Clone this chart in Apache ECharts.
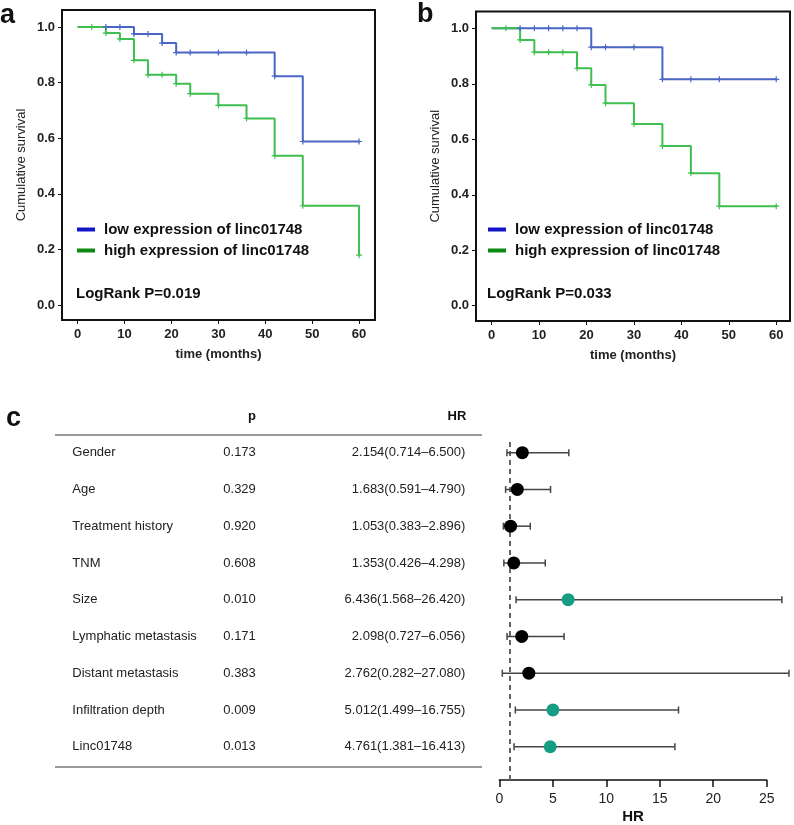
<!DOCTYPE html>
<html>
<head>
<meta charset="utf-8">
<script src="https://cdn.jsdelivr.net/npm/echarts@6/dist/echarts.min.js"></script>
<style>
html, body { margin: 0; padding: 0; background: #fff; }
#chart { width: 794px; height: 825px; }
</style>
</head>
<body>
<div id="chart"></div>
<script>
// panel a - Kaplan-Meier
const aLowTime = [0, 6, 9, 12, 15, 18, 21, 24, 30, 36, 42, 48, 60]
const aLowSurv = [1, 1, 1, 0.975, 0.975, 0.942, 0.908, 0.908, 0.908, 0.908, 0.823, 0.588, 0.588]
const aHighTime = [0, 3, 6, 9, 12, 15, 18, 21, 24, 30, 36, 42, 48, 60]
const aHighSurv = [1, 1, 0.978, 0.957, 0.88, 0.828, 0.828, 0.796, 0.76, 0.718, 0.671, 0.537, 0.357, 0.179]

// panel b - Kaplan-Meier
const bLowTime = [0, 6, 9, 12, 15, 18, 21, 24, 30, 36, 42, 48, 60]
const bLowSurv = [1, 1, 1, 1, 1, 1, 0.932, 0.932, 0.932, 0.816, 0.816, 0.816, 0.816]
const bHighTime = [0, 3, 6, 9, 12, 15, 18, 21, 24, 30, 36, 42, 48, 60]
const bHighSurv = [1, 1, 0.958, 0.914, 0.914, 0.914, 0.856, 0.796, 0.73, 0.655, 0.576, 0.478, 0.359, 0.359]

const timeTicks = [0, 10, 20, 30, 40, 50, 60]
const survTicks = [0, 0.2, 0.4, 0.6, 0.8, 1.0]
const lowName = 'low expression of linc01748'
const highName = 'high expression of linc01748'
const pLogRank = ['LogRank P=0.019', 'LogRank P=0.033']

// panel c - Cox regression
const factors = ['Gender', 'Age', 'Treatment history', 'TNM', 'Size', 'Lymphatic metastasis', 'Distant metastasis', 'Infiltration depth', 'Linc01748']
const pValues = [0.173, 0.329, 0.920, 0.608, 0.010, 0.171, 0.383, 0.009, 0.013]
const hr = [2.154, 1.683, 1.053, 1.353, 6.436, 2.098, 2.762, 5.012, 4.761]
const hrLower = [0.714, 0.591, 0.383, 0.426, 1.568, 0.727, 0.282, 1.499, 1.381]
const hrUpper = [6.500, 4.790, 2.896, 4.298, 26.420, 6.056, 27.080, 16.755, 16.413]
const hrRef = 1

const FONT = "'Liberation Sans', Arial, Helvetica, sans-serif"
const blue = '#4a66c4'
const green = '#3fbf4f'
const teal = '#159e83'
const plus = 'path://M-1,-5H1V-1H5V1H1V5H-1V1H-5V-1H-1Z'

function kmData(times, surv) {
	return times.map((t, i) => i === 0 ? { value: [t, surv[i]], symbol: 'none' } : [t, surv[i]])
}

function kmSeries(name, times, surv, color, idx) {
	return {
		name: name,
		type: 'line',
		step: 'end',
		xAxisIndex: idx,
		yAxisIndex: idx,
		data: kmData(times, surv),
		symbol: plus,
		symbolSize: 6,
		showSymbol: true,
		lineStyle: { color: color, width: 2 },
		itemStyle: { color: color },
		animation: false
	}
}

function kmXAxis(idx, min, max) {
	return {
		type: 'value',
		gridIndex: idx,
		min: min,
		max: max,
		axisLine: { show: false, onZero: false },
		splitLine: { show: false },
		axisTick: { show: true, length: 4, customValues: timeTicks, lineStyle: { color: '#111' } },
		axisLabel: { customValues: timeTicks, margin: 8, fontSize: 13, fontWeight: 'bold', color: '#222', fontFamily: FONT },
		name: 'time (months)',
		nameLocation: 'middle',
		nameGap: 28,
		nameTextStyle: { fontSize: 13, fontWeight: 'bold', color: '#222', fontFamily: FONT }
	}
}

function kmYAxis(idx, min, max) {
	return {
		type: 'value',
		gridIndex: idx,
		min: min,
		max: max,
		axisLine: { show: false, onZero: false },
		splitLine: { show: false },
		axisTick: { show: true, length: 4, customValues: survTicks, lineStyle: { color: '#111' } },
		axisLabel: {
			customValues: survTicks, margin: 7, fontSize: 13, fontWeight: 'bold', color: '#222', fontFamily: FONT,
			formatter: v => v.toFixed(1)
		},
		name: 'Cumulative survival',
		nameLocation: 'middle',
		nameGap: 34,
		nameTextStyle: { fontSize: 13, color: '#222', fontFamily: FONT }
	}
}

function kmLegend(left) {
	return {
		orient: 'vertical',
		left: left,
		top: 222,
		padding: 0,
		itemGap: 6,
		itemWidth: 18,
		itemHeight: 4,
		icon: 'rect',
		selectedMode: false,
		textStyle: { fontSize: 15, fontWeight: 'bold', color: '#111', fontFamily: FONT, padding: [0, 0, 0, 4] },
		data: [
			{ name: lowName, itemStyle: { color: '#1515c8' } },
			{ name: highName, itemStyle: { color: '#0a8a12' } }
		]
	}
}

function hrText(i) {
	return hr[i].toFixed(3) + '(' + hrLower[i].toFixed(3) + '\u2013' + hrUpper[i].toFixed(3) + ')'
}

function label(text, x, y, font, align) {
	return {
		type: 'text', x: x, y: y,
		style: { text: text, font: font, fill: '#111', align: align || 'left', verticalAlign: 'middle' }
	}
}

const chart = echarts.init(document.getElementById('chart'))

const option = {
	animation: false,
	grid: [
		{ left: 62, top: 10, width: 313, height: 310, show: true, borderColor: '#111', borderWidth: 2, backgroundColor: 'transparent' },
		{ left: 476, top: 11.5, width: 314, height: 309.5, show: true, borderColor: '#111', borderWidth: 2, backgroundColor: 'transparent' },
		{ left: 499.3, right: 27.3, top: 434.3, bottom: 59.9 },
		{ left: 499.3, right: 27.3, top: 440, bottom: 44.3 }
	],
	legend: [kmLegend(77), kmLegend(488)],
	xAxis: [
		kmXAxis(0, -3.35, 63.4),
		kmXAxis(1, -3.3, 62.9),
		{ type: 'value', gridIndex: 2, min: 0, max: 25, show: false },
		{
			type: 'value', gridIndex: 3, min: 0, max: 25, interval: 5,
			splitLine: { show: false },
			axisLine: { show: true, onZero: false, lineStyle: { color: '#111', width: 1.5 } },
			axisTick: { show: true, length: 7, lineStyle: { color: '#111', width: 1.5 } },
			axisLabel: { margin: 12, fontSize: 14, color: '#222', fontFamily: FONT },
			name: 'HR',
			nameLocation: 'middle',
			nameGap: 29,
			nameTextStyle: { fontSize: 15, fontWeight: 'bold', color: '#111', fontFamily: FONT }
		}
	],
	yAxis: [
		kmYAxis(0, -0.054, 1.061),
		kmYAxis(1, -0.055, 1.0606),
		{
			type: 'category', gridIndex: 2, data: factors, inverse: true,
			axisLine: { show: false },
			axisTick: { show: false },
			splitLine: { show: false },
			axisLabel: {
				interval: 0,
				margin: 34,
				formatter: (value, index) => '{n|' + value + '}{p|' + pValues[index].toFixed(3) + '}{h|' + hrText(index) + '}',
				rich: {
					n: { width: 151, align: 'left', fontSize: 13, color: '#222', fontFamily: FONT },
					p: { width: 100, align: 'left', fontSize: 13, color: '#222', fontFamily: FONT },
					h: { width: 142, align: 'right', fontSize: 13, color: '#222', fontFamily: FONT }
				}
			}
		},
		{ type: 'value', gridIndex: 3, min: 0, max: 1, show: false }
	],
	series: [
		kmSeries(lowName, aLowTime, aLowSurv, blue, 0),
		kmSeries(highName, aHighTime, aHighSurv, green, 0),
		kmSeries(lowName, bLowTime, bLowSurv, blue, 1),
		kmSeries(highName, bHighTime, bHighSurv, green, 1),
		{
			type: 'line',
			xAxisIndex: 3,
			yAxisIndex: 3,
			data: [[hrRef, 0], [hrRef, 1]],
			symbol: 'none',
			lineStyle: { color: '#666', width: 2, type: [5, 4] },
			z: 1
		},
		{
			type: 'custom',
			xAxisIndex: 2,
			yAxisIndex: 2,
			data: factors.map((f, i) => [hrLower[i], hrUpper[i], i]),
			encode: { x: [0, 1], y: 2 },
			renderItem: function (params, api) {
				const lo = api.coord([api.value(0), api.value(2)])
				const hi = api.coord([api.value(1), api.value(2)])
				const cap = 3.5
				const style = { stroke: '#444', lineWidth: 1.5 }
				return {
					type: 'group',
					children: [
						{ type: 'line', shape: { x1: lo[0], y1: lo[1], x2: hi[0], y2: hi[1] }, style: style },
						{ type: 'line', shape: { x1: lo[0], y1: lo[1] - cap, x2: lo[0], y2: lo[1] + cap }, style: style },
						{ type: 'line', shape: { x1: hi[0], y1: hi[1] - cap, x2: hi[0], y2: hi[1] + cap }, style: style }
					]
				}
			},
			z: 2
		},
		{
			type: 'scatter',
			xAxisIndex: 2,
			yAxisIndex: 2,
			symbolSize: 13,
			data: hr.map((v, i) => ({ value: [v, factors[i]], itemStyle: { color: pValues[i] < 0.05 ? teal : '#000', opacity: 1 } })),
			z: 3
		}
	],
	graphic: [
		label('a', 0, 15.5, 'bold 27px ' + FONT),
		label('b', 417, 15, 'bold 27px ' + FONT),
		label('c', 6, 419, 'bold 27px ' + FONT),
		label(pLogRank[0], 76, 294, 'bold 15px ' + FONT),
		label(pLogRank[1], 487, 294, 'bold 15px ' + FONT),
		label('p', 252, 416, 'bold 13px ' + FONT, 'center'),
		label('HR', 457, 416, 'bold 13px ' + FONT, 'center'),
		{ type: 'line', shape: { x1: 55, y1: 435, x2: 482, y2: 435 }, style: { stroke: '#333', lineWidth: 1 } },
		{ type: 'line', shape: { x1: 55, y1: 767, x2: 482, y2: 767 }, style: { stroke: '#333', lineWidth: 1 } }
	]
}

chart.setOption(option)
</script>
</body>
</html>
